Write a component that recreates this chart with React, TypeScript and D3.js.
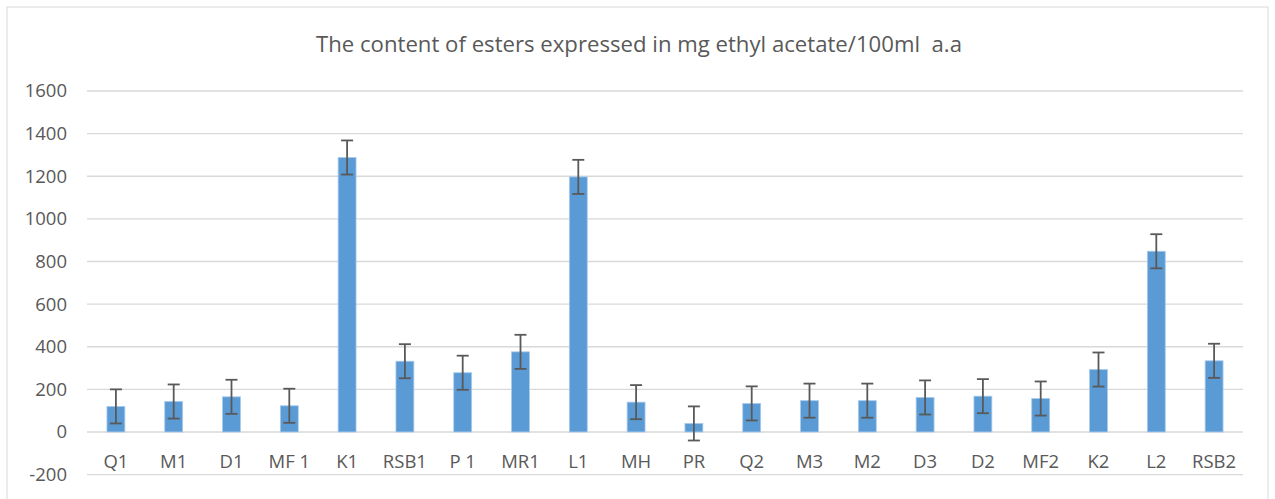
import React from 'react';
import * as d3 from 'd3';

const categories = ['Q1', 'M1', 'D1', 'MF 1', 'K1', 'RSB1', 'P 1', 'MR1', 'L1', 'MH', 'PR', 'Q2', 'M3', 'M2', 'D3', 'D2', 'MF2', 'K2', 'L2', 'RSB2'];
const values = [120, 143, 165, 123, 1288, 332, 278, 376, 1197, 140, 40, 134, 147, 147, 162, 168, 157, 293, 848, 334];
const errors = [80, 80, 80, 80, 80, 80, 80, 80, 80, 80, 80, 80, 80, 80, 80, 80, 80, 80, 80, 80];
const yTicks = [-200, 0, 200, 400, 600, 800, 1000, 1200, 1400, 1600];

const title = 'The content of esters expressed in mg ethyl acetate/100ml  a.a';

const width = 1275;
const height = 499;
const margin = { top: 91, right: 32, bottom: 25, left: 87 };
const font = '"Open Sans", sans-serif';
const grey = '#595959';

export default function App() {
  const x = d3.scaleBand()
    .domain(categories)
    .range([margin.left, width - margin.right])
    .paddingInner(0.69)
    .paddingOuter(0.345);
  const y = d3.scaleLinear()
    .domain([-200, 1600])
    .range([474.6, margin.top]);

  const barW = x.bandwidth();

  return (
    <svg width={width} height={height} style={{ position: 'absolute', left: 0, top: 0, background: '#fff' }}>
      <rect x={7} y={7} width={1261} height={500} fill="#fff" stroke="#d9d9d9" strokeWidth={1} />
      <text x={639} y={52} textAnchor="middle" fontFamily={font} fontSize={21} fill={grey}
        style={{ whiteSpace: 'pre' }} textLength={646} lengthAdjust="spacingAndGlyphs">{title}</text>

      {yTicks.map((t) => (
        <g key={t}>
          <line x1={margin.left} x2={width - margin.right} y1={y(t)} y2={y(t)} stroke="#d9d9d9" strokeWidth={1.3} />
          <text x={67} y={y(t)} dy="0.35em" textAnchor="end" fontFamily={font} fontSize={18.5} fill={grey}>{t}</text>
        </g>
      ))}

      {categories.map((c, i) => {
        const bx = x(c)!;
        const cx = bx + barW / 2;
        const v = values[i];
        const e = errors[i];
        return (
          <g key={c}>
            <rect x={bx} y={y(v)} width={barW} height={y(0) - y(v)} fill="#5b9bd5" stroke="#a9cbeb" strokeWidth={0.8} />
            <line x1={cx} x2={cx} y1={y(v + e)} y2={y(v - e)} stroke={grey} strokeWidth={1.8} />
            <line x1={cx - 6} x2={cx + 6} y1={y(v + e)} y2={y(v + e)} stroke={grey} strokeWidth={1.8} />
            <line x1={cx - 6} x2={cx + 6} y1={y(v - e)} y2={y(v - e)} stroke={grey} strokeWidth={1.8} />
            <text x={cx} y={462} dy="0.35em" textAnchor="middle" fontFamily={font} fontSize={18.5} fill={grey}>{c}</text>
          </g>
        );
      })}
    </svg>
  );
}
